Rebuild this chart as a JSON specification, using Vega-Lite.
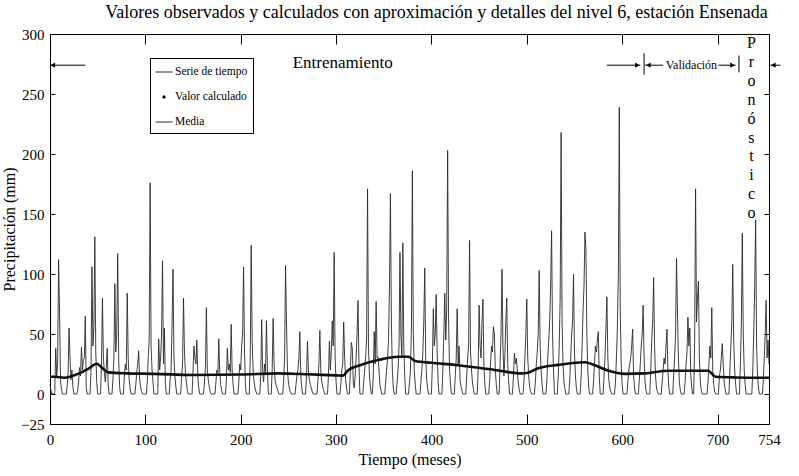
{
"$schema": "https://vega.github.io/schema/vega-lite/v6.json",
"width": 719, "height": 390,
"autosize": "none",
"padding": {"left": 50, "top": 34, "right": 30, "bottom": 52},
"background": "white",
"config": {"view": {"stroke": "black", "strokeWidth": 1}, "font": "Liberation Serif",
  "axis": {"grid": false, "domainColor": "black", "tickColor": "black", "labelColor": "black", "titleColor": "black", "labelFont": "Liberation Serif", "titleFont": "Liberation Serif", "titleFontWeight": "normal", "labelFontSize": 15, "titleFontSize": 16}},
"title": {"text": "Valores observados y calculados con aproximación y detalles del nivel 6, estación Ensenada", "font": "Liberation Serif", "fontSize": 18, "fontWeight": "normal", "color": "black", "dx": 27, "offset": 5},
"datasets": {
"serie": [
{"t":0,"v":8},{"t":1,"v":3},{"t":2,"v":0},{"t":3,"v":0},{"t":4,"v":0},{"t":5,"v":2},{"t":6,"v":38},{"t":7,"v":15},{"t":8,"v":25},{"t":9,"v":112},{"t":10,"v":71},{"t":11,"v":12},
{"t":12,"v":4},{"t":13,"v":0},{"t":14,"v":0},{"t":15,"v":0},{"t":16,"v":0},{"t":17,"v":0},{"t":18,"v":6},{"t":19,"v":18},{"t":20,"v":55},{"t":21,"v":30},{"t":22,"v":12},{"t":23,"v":20},
{"t":24,"v":6},{"t":25,"v":0},{"t":26,"v":0},{"t":27,"v":0},{"t":28,"v":0},{"t":29,"v":3},{"t":30,"v":10},{"t":31,"v":22},{"t":32,"v":15},{"t":33,"v":39},{"t":34,"v":20},{"t":35,"v":28},
{"t":36,"v":30},{"t":37,"v":65},{"t":38,"v":5},{"t":39,"v":0},{"t":40,"v":0},{"t":41,"v":0},{"t":42,"v":0},{"t":43,"v":20},{"t":44,"v":106},{"t":45,"v":40},{"t":46,"v":55},{"t":47,"v":131},
{"t":48,"v":35},{"t":49,"v":10},{"t":50,"v":0},{"t":51,"v":0},{"t":52,"v":0},{"t":53,"v":0},{"t":54,"v":25},{"t":55,"v":80},{"t":56,"v":30},{"t":57,"v":18},{"t":58,"v":10},{"t":59,"v":22},
{"t":60,"v":38},{"t":61,"v":8},{"t":62,"v":0},{"t":63,"v":0},{"t":64,"v":0},{"t":65,"v":0},{"t":66,"v":12},{"t":67,"v":30},{"t":68,"v":92},{"t":69,"v":35},{"t":70,"v":50},{"t":71,"v":117},
{"t":72,"v":30},{"t":73,"v":6},{"t":74,"v":0},{"t":75,"v":0},{"t":76,"v":0},{"t":77,"v":0},{"t":78,"v":15},{"t":79,"v":25},{"t":80,"v":20},{"t":81,"v":84},{"t":82,"v":30},{"t":83,"v":12},
{"t":84,"v":5},{"t":85,"v":0},{"t":86,"v":0},{"t":87,"v":0},{"t":88,"v":0},{"t":89,"v":0},{"t":90,"v":8},{"t":91,"v":18},{"t":92,"v":25},{"t":93,"v":36},{"t":94,"v":12},{"t":95,"v":6},
{"t":96,"v":2},{"t":97,"v":0},{"t":98,"v":0},{"t":99,"v":0},{"t":100,"v":0},{"t":101,"v":0},{"t":102,"v":10},{"t":103,"v":30},{"t":104,"v":45},{"t":105,"v":176},{"t":106,"v":40},{"t":107,"v":20},
{"t":108,"v":10},{"t":109,"v":0},{"t":110,"v":0},{"t":111,"v":0},{"t":112,"v":0},{"t":113,"v":0},{"t":114,"v":46},{"t":115,"v":20},{"t":116,"v":30},{"t":117,"v":50},{"t":118,"v":111},{"t":119,"v":25},
{"t":120,"v":55},{"t":121,"v":8},{"t":122,"v":0},{"t":123,"v":0},{"t":124,"v":0},{"t":125,"v":0},{"t":126,"v":12},{"t":127,"v":20},{"t":128,"v":58},{"t":129,"v":104},{"t":130,"v":30},{"t":131,"v":15},
{"t":132,"v":6},{"t":133,"v":0},{"t":134,"v":0},{"t":135,"v":0},{"t":136,"v":0},{"t":137,"v":0},{"t":138,"v":14},{"t":139,"v":25},{"t":140,"v":80},{"t":141,"v":35},{"t":142,"v":18},{"t":143,"v":10},
{"t":144,"v":3},{"t":145,"v":0},{"t":146,"v":0},{"t":147,"v":0},{"t":148,"v":0},{"t":149,"v":0},{"t":150,"v":20},{"t":151,"v":40},{"t":152,"v":30},{"t":153,"v":25},{"t":154,"v":45},{"t":155,"v":15},
{"t":156,"v":5},{"t":157,"v":0},{"t":158,"v":0},{"t":159,"v":0},{"t":160,"v":0},{"t":161,"v":0},{"t":162,"v":10},{"t":163,"v":22},{"t":164,"v":72},{"t":165,"v":20},{"t":166,"v":12},{"t":167,"v":6},
{"t":168,"v":2},{"t":169,"v":0},{"t":170,"v":0},{"t":171,"v":0},{"t":172,"v":0},{"t":173,"v":0},{"t":174,"v":10},{"t":175,"v":20},{"t":176,"v":15},{"t":177,"v":46},{"t":178,"v":18},{"t":179,"v":8},
{"t":180,"v":3},{"t":181,"v":0},{"t":182,"v":0},{"t":183,"v":0},{"t":184,"v":0},{"t":185,"v":12},{"t":186,"v":38},{"t":187,"v":20},{"t":188,"v":25},{"t":189,"v":18},{"t":190,"v":58},{"t":191,"v":20},
{"t":192,"v":8},{"t":193,"v":0},{"t":194,"v":0},{"t":195,"v":0},{"t":196,"v":0},{"t":197,"v":0},{"t":198,"v":10},{"t":199,"v":25},{"t":200,"v":20},{"t":201,"v":40},{"t":202,"v":50},{"t":203,"v":106},
{"t":204,"v":35},{"t":205,"v":6},{"t":206,"v":0},{"t":207,"v":0},{"t":208,"v":0},{"t":209,"v":0},{"t":210,"v":30},{"t":211,"v":124},{"t":212,"v":45},{"t":213,"v":20},{"t":214,"v":10},{"t":215,"v":5},
{"t":216,"v":2},{"t":217,"v":0},{"t":218,"v":0},{"t":219,"v":0},{"t":220,"v":0},{"t":221,"v":15},{"t":222,"v":62},{"t":223,"v":20},{"t":224,"v":10},{"t":225,"v":25},{"t":226,"v":18},{"t":227,"v":61},
{"t":228,"v":20},{"t":229,"v":0},{"t":230,"v":0},{"t":231,"v":0},{"t":232,"v":0},{"t":233,"v":20},{"t":234,"v":63},{"t":235,"v":25},{"t":236,"v":12},{"t":237,"v":8},{"t":238,"v":5},{"t":239,"v":3},
{"t":240,"v":0},{"t":241,"v":0},{"t":242,"v":0},{"t":243,"v":0},{"t":244,"v":0},{"t":245,"v":10},{"t":246,"v":30},{"t":247,"v":107},{"t":248,"v":60},{"t":249,"v":20},{"t":250,"v":10},{"t":251,"v":5},
{"t":252,"v":2},{"t":253,"v":0},{"t":254,"v":0},{"t":255,"v":0},{"t":256,"v":0},{"t":257,"v":0},{"t":258,"v":8},{"t":259,"v":15},{"t":260,"v":20},{"t":261,"v":30},{"t":262,"v":52},{"t":263,"v":15},
{"t":264,"v":5},{"t":265,"v":0},{"t":266,"v":0},{"t":267,"v":0},{"t":268,"v":0},{"t":269,"v":15},{"t":270,"v":44},{"t":271,"v":20},{"t":272,"v":12},{"t":273,"v":8},{"t":274,"v":5},{"t":275,"v":2},
{"t":276,"v":0},{"t":277,"v":0},{"t":278,"v":0},{"t":279,"v":0},{"t":280,"v":0},{"t":281,"v":12},{"t":282,"v":25},{"t":283,"v":53},{"t":284,"v":18},{"t":285,"v":10},{"t":286,"v":6},{"t":287,"v":3},
{"t":288,"v":0},{"t":289,"v":0},{"t":290,"v":0},{"t":291,"v":0},{"t":292,"v":15},{"t":293,"v":44},{"t":294,"v":20},{"t":295,"v":35},{"t":296,"v":61},{"t":297,"v":40},{"t":298,"v":118},{"t":299,"v":30},
{"t":300,"v":10},{"t":301,"v":0},{"t":302,"v":0},{"t":303,"v":0},{"t":304,"v":0},{"t":305,"v":8},{"t":306,"v":20},{"t":307,"v":25},{"t":308,"v":60},{"t":309,"v":30},{"t":310,"v":12},{"t":311,"v":5},
{"t":312,"v":0},{"t":313,"v":0},{"t":314,"v":0},{"t":315,"v":20},{"t":316,"v":43},{"t":317,"v":38},{"t":318,"v":10},{"t":319,"v":5},{"t":320,"v":15},{"t":321,"v":30},{"t":322,"v":50},{"t":323,"v":78},
{"t":324,"v":25},{"t":325,"v":0},{"t":326,"v":0},{"t":327,"v":0},{"t":328,"v":0},{"t":329,"v":10},{"t":330,"v":20},{"t":331,"v":30},{"t":332,"v":45},{"t":333,"v":171},{"t":334,"v":40},{"t":335,"v":15},
{"t":336,"v":6},{"t":337,"v":0},{"t":338,"v":0},{"t":339,"v":15},{"t":340,"v":52},{"t":341,"v":25},{"t":342,"v":77},{"t":343,"v":30},{"t":344,"v":31},{"t":345,"v":20},{"t":346,"v":8},{"t":347,"v":3},
{"t":348,"v":0},{"t":349,"v":0},{"t":350,"v":0},{"t":351,"v":0},{"t":352,"v":10},{"t":353,"v":20},{"t":354,"v":30},{"t":355,"v":45},{"t":356,"v":90},{"t":357,"v":167},{"t":358,"v":60},{"t":359,"v":20},
{"t":360,"v":5},{"t":361,"v":0},{"t":362,"v":0},{"t":363,"v":0},{"t":364,"v":10},{"t":365,"v":20},{"t":366,"v":40},{"t":367,"v":118},{"t":368,"v":50},{"t":369,"v":30},{"t":370,"v":126},{"t":371,"v":40},
{"t":372,"v":15},{"t":373,"v":0},{"t":374,"v":0},{"t":375,"v":0},{"t":376,"v":0},{"t":377,"v":10},{"t":378,"v":20},{"t":379,"v":55},{"t":380,"v":186},{"t":381,"v":50},{"t":382,"v":20},{"t":383,"v":8},
{"t":384,"v":0},{"t":385,"v":0},{"t":386,"v":0},{"t":387,"v":0},{"t":388,"v":0},{"t":389,"v":10},{"t":390,"v":20},{"t":391,"v":35},{"t":392,"v":60},{"t":393,"v":105},{"t":394,"v":30},{"t":395,"v":12},
{"t":396,"v":5},{"t":397,"v":0},{"t":398,"v":0},{"t":399,"v":0},{"t":400,"v":0},{"t":401,"v":25},{"t":402,"v":71},{"t":403,"v":40},{"t":404,"v":50},{"t":405,"v":83},{"t":406,"v":35},{"t":407,"v":10},
{"t":408,"v":0},{"t":409,"v":0},{"t":410,"v":0},{"t":411,"v":0},{"t":412,"v":20},{"t":413,"v":50},{"t":414,"v":84},{"t":415,"v":45},{"t":416,"v":70},{"t":417,"v":203},{"t":418,"v":60},{"t":419,"v":20},
{"t":420,"v":8},{"t":421,"v":0},{"t":422,"v":0},{"t":423,"v":0},{"t":424,"v":0},{"t":425,"v":15},{"t":426,"v":30},{"t":427,"v":71},{"t":428,"v":25},{"t":429,"v":40},{"t":430,"v":12},{"t":431,"v":6},
{"t":432,"v":3},{"t":433,"v":0},{"t":434,"v":0},{"t":435,"v":0},{"t":436,"v":0},{"t":437,"v":15},{"t":438,"v":30},{"t":439,"v":40},{"t":440,"v":128},{"t":441,"v":35},{"t":442,"v":20},{"t":443,"v":10},
{"t":444,"v":4},{"t":445,"v":0},{"t":446,"v":0},{"t":447,"v":0},{"t":448,"v":0},{"t":449,"v":20},{"t":450,"v":74},{"t":451,"v":40},{"t":452,"v":30},{"t":453,"v":60},{"t":454,"v":79},{"t":455,"v":25},
{"t":456,"v":8},{"t":457,"v":0},{"t":458,"v":0},{"t":459,"v":0},{"t":460,"v":0},{"t":461,"v":10},{"t":462,"v":25},{"t":463,"v":40},{"t":464,"v":35},{"t":465,"v":56},{"t":466,"v":50},{"t":467,"v":20},
{"t":468,"v":8},{"t":469,"v":0},{"t":470,"v":0},{"t":471,"v":0},{"t":472,"v":25},{"t":473,"v":50},{"t":474,"v":104},{"t":475,"v":40},{"t":476,"v":15},{"t":477,"v":30},{"t":478,"v":60},{"t":479,"v":80},
{"t":480,"v":25},{"t":481,"v":10},{"t":482,"v":0},{"t":483,"v":0},{"t":484,"v":0},{"t":485,"v":0},{"t":486,"v":15},{"t":487,"v":34},{"t":488,"v":25},{"t":489,"v":30},{"t":490,"v":20},{"t":491,"v":10},
{"t":492,"v":4},{"t":493,"v":0},{"t":494,"v":0},{"t":495,"v":0},{"t":496,"v":0},{"t":497,"v":10},{"t":498,"v":30},{"t":499,"v":50},{"t":500,"v":79},{"t":501,"v":30},{"t":502,"v":15},{"t":503,"v":6},
{"t":504,"v":2},{"t":505,"v":0},{"t":506,"v":0},{"t":507,"v":0},{"t":508,"v":0},{"t":509,"v":10},{"t":510,"v":25},{"t":511,"v":35},{"t":512,"v":50},{"t":513,"v":103},{"t":514,"v":40},{"t":515,"v":20},
{"t":516,"v":8},{"t":517,"v":0},{"t":518,"v":0},{"t":519,"v":0},{"t":520,"v":0},{"t":521,"v":10},{"t":522,"v":30},{"t":523,"v":45},{"t":524,"v":60},{"t":525,"v":90},{"t":526,"v":136},{"t":527,"v":50},
{"t":528,"v":20},{"t":529,"v":0},{"t":530,"v":0},{"t":531,"v":0},{"t":532,"v":0},{"t":533,"v":15},{"t":534,"v":40},{"t":535,"v":80},{"t":536,"v":218},{"t":537,"v":60},{"t":538,"v":25},{"t":539,"v":10},
{"t":540,"v":4},{"t":541,"v":0},{"t":542,"v":0},{"t":543,"v":0},{"t":544,"v":0},{"t":545,"v":10},{"t":546,"v":30},{"t":547,"v":50},{"t":548,"v":60},{"t":549,"v":100},{"t":550,"v":35},{"t":551,"v":15},
{"t":552,"v":5},{"t":553,"v":0},{"t":554,"v":0},{"t":555,"v":0},{"t":556,"v":0},{"t":557,"v":15},{"t":558,"v":40},{"t":559,"v":70},{"t":560,"v":90},{"t":561,"v":135},{"t":562,"v":121},{"t":563,"v":50},
{"t":564,"v":20},{"t":565,"v":5},{"t":566,"v":0},{"t":567,"v":0},{"t":568,"v":0},{"t":569,"v":0},{"t":570,"v":10},{"t":571,"v":25},{"t":572,"v":40},{"t":573,"v":35},{"t":574,"v":45},{"t":575,"v":52},
{"t":576,"v":15},{"t":577,"v":0},{"t":578,"v":0},{"t":579,"v":0},{"t":580,"v":0},{"t":581,"v":15},{"t":582,"v":30},{"t":583,"v":55},{"t":584,"v":81},{"t":585,"v":30},{"t":586,"v":12},{"t":587,"v":5},
{"t":588,"v":2},{"t":589,"v":0},{"t":590,"v":0},{"t":591,"v":0},{"t":592,"v":0},{"t":593,"v":10},{"t":594,"v":30},{"t":595,"v":55},{"t":596,"v":100},{"t":597,"v":239},{"t":598,"v":70},{"t":599,"v":25},
{"t":600,"v":8},{"t":601,"v":0},{"t":602,"v":0},{"t":603,"v":0},{"t":604,"v":0},{"t":605,"v":0},{"t":606,"v":10},{"t":607,"v":20},{"t":608,"v":25},{"t":609,"v":30},{"t":610,"v":40},{"t":611,"v":54},
{"t":612,"v":15},{"t":613,"v":5},{"t":614,"v":0},{"t":615,"v":0},{"t":616,"v":0},{"t":617,"v":0},{"t":618,"v":12},{"t":619,"v":25},{"t":620,"v":40},{"t":621,"v":50},{"t":622,"v":74},{"t":623,"v":30},
{"t":624,"v":10},{"t":625,"v":3},{"t":626,"v":0},{"t":627,"v":0},{"t":628,"v":0},{"t":629,"v":0},{"t":630,"v":20},{"t":631,"v":45},{"t":632,"v":60},{"t":633,"v":97},{"t":634,"v":40},{"t":635,"v":15},
{"t":636,"v":5},{"t":637,"v":2},{"t":638,"v":0},{"t":639,"v":0},{"t":640,"v":0},{"t":641,"v":0},{"t":642,"v":10},{"t":643,"v":20},{"t":644,"v":30},{"t":645,"v":25},{"t":646,"v":40},{"t":647,"v":54},
{"t":648,"v":20},{"t":649,"v":5},{"t":650,"v":0},{"t":651,"v":0},{"t":652,"v":0},{"t":653,"v":0},{"t":654,"v":15},{"t":655,"v":30},{"t":656,"v":50},{"t":657,"v":113},{"t":658,"v":70},{"t":659,"v":30},
{"t":660,"v":10},{"t":661,"v":3},{"t":662,"v":0},{"t":663,"v":0},{"t":664,"v":0},{"t":665,"v":0},{"t":666,"v":10},{"t":667,"v":25},{"t":668,"v":35},{"t":669,"v":64},{"t":670,"v":40},{"t":671,"v":55},
{"t":672,"v":15},{"t":673,"v":5},{"t":674,"v":0},{"t":675,"v":0},{"t":676,"v":40},{"t":677,"v":171},{"t":678,"v":60},{"t":679,"v":80},{"t":680,"v":94},{"t":681,"v":30},{"t":682,"v":10},{"t":683,"v":3},
{"t":684,"v":0},{"t":685,"v":0},{"t":686,"v":0},{"t":687,"v":0},{"t":688,"v":0},{"t":689,"v":0},{"t":690,"v":10},{"t":691,"v":25},{"t":692,"v":40},{"t":693,"v":30},{"t":694,"v":72},{"t":695,"v":20},
{"t":696,"v":8},{"t":697,"v":2},{"t":698,"v":0},{"t":699,"v":0},{"t":700,"v":0},{"t":701,"v":0},{"t":702,"v":15},{"t":703,"v":20},{"t":704,"v":30},{"t":705,"v":42},{"t":706,"v":25},{"t":707,"v":10},
{"t":708,"v":4},{"t":709,"v":0},{"t":710,"v":0},{"t":711,"v":0},{"t":712,"v":0},{"t":713,"v":20},{"t":714,"v":40},{"t":715,"v":60},{"t":716,"v":108},{"t":717,"v":45},{"t":718,"v":20},{"t":719,"v":8},
{"t":720,"v":0},{"t":721,"v":0},{"t":722,"v":0},{"t":723,"v":0},{"t":724,"v":25},{"t":725,"v":60},{"t":726,"v":134},{"t":727,"v":50},{"t":728,"v":20},{"t":729,"v":8},{"t":730,"v":0},{"t":731,"v":0},
{"t":732,"v":0},{"t":733,"v":0},{"t":734,"v":0},{"t":735,"v":0},{"t":736,"v":0},{"t":737,"v":20},{"t":738,"v":50},{"t":739,"v":90},{"t":740,"v":145},{"t":741,"v":40},{"t":742,"v":15},{"t":743,"v":5},
{"t":744,"v":0},{"t":745,"v":0},{"t":746,"v":0},{"t":747,"v":0},{"t":748,"v":10},{"t":749,"v":30},{"t":750,"v":50},{"t":751,"v":78},{"t":752,"v":30},{"t":753,"v":45},{"t":754,"v":25}
],
"calc": [
{"t":0,"v":14.4},{"t":5,"v":14.4},{"t":15,"v":13.6},{"t":30,"v":17},{"t":40,"v":21},{"t":49,"v":25.2},{"t":55,"v":21.5},{"t":61,"v":18},{"t":80,"v":17.2},{"t":110,"v":16.8},{"t":150,"v":15.8},{"t":200,"v":16.2},{"t":239,"v":17.2},{"t":270,"v":16.5},{"t":300,"v":15.5},{"t":307,"v":15.3},{"t":313,"v":20},{"t":325,"v":24},{"t":344,"v":28.3},{"t":365,"v":31.1},{"t":376,"v":31.1},{"t":383,"v":27.5},{"t":400,"v":26},{"t":425,"v":24.2},{"t":460,"v":20.8},{"t":495,"v":17.2},{"t":500,"v":17.5},{"t":512,"v":21.5},{"t":533,"v":24.3},{"t":561,"v":26.5},{"t":568,"v":25},{"t":585,"v":19.6},{"t":603,"v":16.8},{"t":624,"v":17.2},{"t":648,"v":19.4},{"t":690,"v":19.4},{"t":698,"v":14.4},{"t":720,"v":13.8},{"t":754,"v":13.5}
],
"arrows": [
{"t1":0,"t2":37,"v":274},{"t1":584,"t2":619,"v":274},{"t1":624,"t2":643,"v":274},{"t1":701,"t2":719,"v":274},{"t1":755.5,"t2":766,"v":274}
],
"bars": [
{"t":623,"v1":266,"v2":284},{"t":722.5,"v1":268,"v2":282}
],
"heads": [
{"t":3,"v":274,"dir":"triangle-left"},{"t":616,"v":274,"dir":"triangle-right"},{"t":627.5,"v":274,"dir":"triangle-left"},{"t":715.7,"v":274,"dir":"triangle-right"},{"t":758.5,"v":274,"dir":"triangle-left"}
],
"labels": [
{"t":307,"v":276,"txt":"Entrenamiento","fs":17},{"t":672.6,"v":274.5,"txt":"Validación","fs":12},
{"t":735.6,"v":292.5,"txt":"P","fs":16},{"t":735.6,"v":276.75,"txt":"r","fs":16},{"t":735.6,"v":261,"txt":"o","fs":16},{"t":735.6,"v":245.25,"txt":"n","fs":16},{"t":735.6,"v":229.5,"txt":"ó","fs":16},{"t":735.6,"v":213.75,"txt":"s","fs":16},{"t":735.6,"v":198,"txt":"t","fs":16},{"t":735.6,"v":182.25,"txt":"i","fs":16},{"t":735.6,"v":166.5,"txt":"c","fs":16},{"t":735.6,"v":150.75,"txt":"o","fs":16}
]
},
"layer": [
{
 "data": {"name": "serie"},
 "mark": {"type": "line", "strokeWidth": 0.9, "interpolate": "linear"},
 "encoding": {
  "x": {"field": "t", "type": "quantitative", "scale": {"domain": [0, 754], "nice": false, "zero": false},
        "axis": {"orient": "bottom", "values": [0,100,200,300,400,500,600,700,754], "tickSize": -10, "labelPadding": 18, "labelFlush": false, "title": "Tiempo (meses)", "titlePadding": 4}},
  "y": {"field": "v", "type": "quantitative", "scale": {"domain": [-25, 300], "nice": false, "zero": false},
        "axis": {"orient": "left", "values": [-25,0,50,100,150,200,250,300], "tickSize": -5, "labelPadding": 11, "labelFlush": false, "title": "Precipitación (mm)", "titlePadding": 3}},
  "color": {"datum": "Serie de tiempo", "type": "nominal",
    "scale": {"domain": ["Serie de tiempo", "Valor calculado", "Media"], "range": ["#2a2a2a", "#111111", "#2a2a2a"]},
    "legend": {"title": null, "orient": "none", "legendX": 100, "legendY": 24, "padding": 5, "strokeColor": "black", "fillColor": "white", "cornerRadius": 0,
      "symbolType": "stroke", "symbolSize": 289, "symbolStrokeWidth": 1, "labelFont": "Liberation Serif", "labelFontSize": 11.5, "labelColor": "black", "rowPadding": 10, "labelOffset": 2,
      "encode": {"symbols": {"update": {
        "shape": {"signal": "datum.label == 'Valor calculado' ? 'circle' : 'stroke'"},
        "size": {"signal": "datum.label == 'Valor calculado' ? 6 : 289"},
        "fill": {"signal": "datum.label == 'Valor calculado' ? 'black' : 'transparent'"},
        "stroke": {"value": "black"}}}}}}
 }
},
{
 "mark": {"type": "rule", "strokeWidth": 1},
 "encoding": {
  "y": {"datum": 15, "type": "quantitative", "scale": {"domain": [-25, 300], "nice": false, "zero": false}, "axis": null},
  "color": {"datum": "Media", "type": "nominal"}
 }
},
{
 "data": {"name": "calc"},
 "mark": {"type": "line", "strokeWidth": 2.6, "interpolate": "monotone"},
 "encoding": {
  "x": {"field": "t", "type": "quantitative", "scale": {"domain": [0, 754], "nice": false, "zero": false},
        "axis": {"orient": "top", "values": [100,200,300,400,500,600,700], "tickSize": -10, "labels": false, "title": null, "domain": true}},
  "y": {"field": "v", "type": "quantitative", "scale": {"domain": [-25, 300], "nice": false, "zero": false},
        "axis": {"orient": "right", "values": [0,50,100,150,200,250], "tickSize": -5, "labels": false, "title": null}},
  "color": {"datum": "Valor calculado", "type": "nominal"}
 }
},
{
 "data": {"name": "arrows"},
 "mark": {"type": "rule", "strokeWidth": 1, "color": "black"},
 "encoding": {
  "x": {"field": "t1", "type": "quantitative", "scale": {"domain": [0, 754], "nice": false, "zero": false}, "axis": null},
  "x2": {"field": "t2"},
  "y": {"field": "v", "type": "quantitative", "scale": {"domain": [-25, 300], "nice": false, "zero": false}, "axis": null}
 }
},
{
 "data": {"name": "bars"},
 "mark": {"type": "rule", "strokeWidth": 1, "color": "black"},
 "encoding": {
  "x": {"field": "t", "type": "quantitative", "scale": {"domain": [0, 754], "nice": false, "zero": false}, "axis": null},
  "y": {"field": "v1", "type": "quantitative", "scale": {"domain": [-25, 300], "nice": false, "zero": false}, "axis": null},
  "y2": {"field": "v2"}
 }
},
{
 "data": {"name": "heads"},
 "mark": {"type": "point", "filled": true, "color": "black", "size": 28, "opacity": 1},
 "encoding": {
  "x": {"field": "t", "type": "quantitative", "scale": {"domain": [0, 754], "nice": false, "zero": false}, "axis": null},
  "y": {"field": "v", "type": "quantitative", "scale": {"domain": [-25, 300], "nice": false, "zero": false}, "axis": null},
  "shape": {"field": "dir", "type": "nominal", "scale": null, "legend": null}
 }
},
{
 "data": {"name": "labels"},
 "mark": {"type": "text", "font": "Liberation Serif", "color": "black", "align": "center", "baseline": "middle"},
 "encoding": {
  "x": {"field": "t", "type": "quantitative", "scale": {"domain": [0, 754], "nice": false, "zero": false}, "axis": null},
  "y": {"field": "v", "type": "quantitative", "scale": {"domain": [-25, 300], "nice": false, "zero": false}, "axis": null},
  "text": {"field": "txt"},
  "size": {"field": "fs", "type": "quantitative", "scale": null, "legend": null}
 }
}
],
"resolve": {"axis": {"x": "independent", "y": "independent"}}
}
